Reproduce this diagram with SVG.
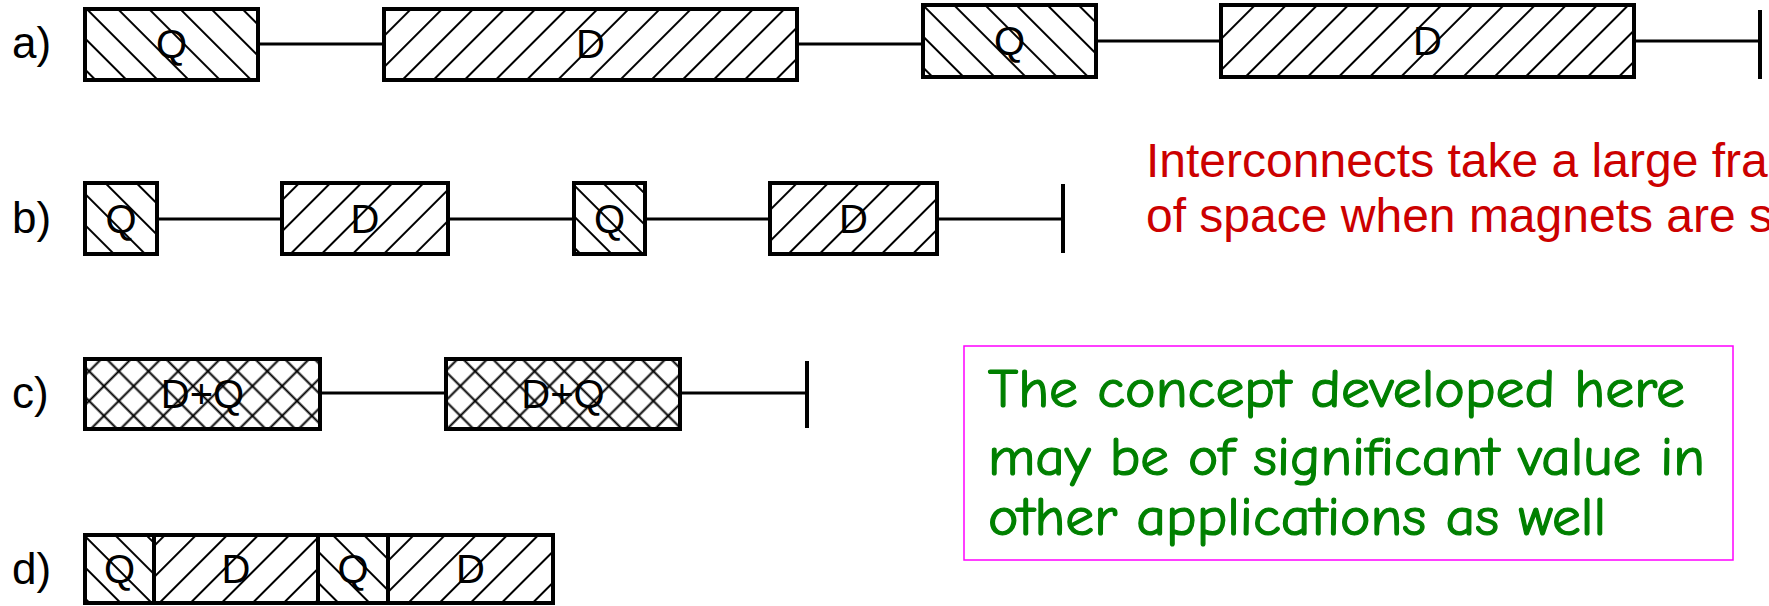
<svg xmlns="http://www.w3.org/2000/svg" width="1769" height="606" viewBox="0 0 1769 606">
<style>
.box{stroke:#000;stroke-width:4}
.conn{stroke:#000;stroke-width:3;fill:none}
.bar{stroke:#000;stroke-width:4}
.lbl{font-family:"Liberation Sans",Arial,sans-serif;font-size:44px;fill:#000}
.in{font-family:"Liberation Sans",Arial,sans-serif;font-size:40px;fill:#000;text-anchor:middle}
.red{font-family:"Liberation Sans",Arial,sans-serif;font-size:48px;fill:#CC0000}
.grn{font-family:"Comic Sans MS","Comic Neue","DejaVu Sans",sans-serif;font-size:54px;fill:#008000;stroke:#008000;stroke-width:1.2}
</style>
<defs>
<pattern id="hQ" patternUnits="userSpaceOnUse" width="22" height="22" patternTransform="rotate(-45)">
<rect width="22" height="22" fill="#fff"/><line x1="11" y1="0" x2="11" y2="22" stroke="#000" stroke-width="2"/>
</pattern>
<pattern id="hD" patternUnits="userSpaceOnUse" width="22" height="22" patternTransform="rotate(45)">
<rect width="22" height="22" fill="#fff"/><line x1="11" y1="0" x2="11" y2="22" stroke="#000" stroke-width="2"/>
</pattern>
<pattern id="hX" patternUnits="userSpaceOnUse" width="21" height="21" patternTransform="rotate(45)">
<rect width="21" height="21" fill="#fff"/><line x1="10.5" y1="0" x2="10.5" y2="21" stroke="#000" stroke-width="2"/><line x1="0" y1="10.5" x2="21" y2="10.5" stroke="#000" stroke-width="2"/>
</pattern>
</defs>
<rect width="1769" height="606" fill="#fff"/>

<g id="labels">
<text class="lbl" x="12" y="58">a)</text>
<text class="lbl" x="12" y="233">b)</text>
<text class="lbl" x="12" y="408">c)</text>
<text class="lbl" x="12" y="584">d)</text>
</g>

<g id="connectors">
<line class="conn" x1="258" y1="44" x2="384" y2="44"/>
<line class="conn" x1="797" y1="44" x2="923" y2="44"/>
<line class="conn" x1="1096" y1="41" x2="1221" y2="41" stroke-width="4"/>
<line class="conn" x1="1634" y1="41" x2="1760" y2="41" stroke-width="4"/>
<line class="bar" x1="1760" y1="10" x2="1760" y2="79"/>
<line class="conn" x1="157" y1="219" x2="282" y2="219"/>
<line class="conn" x1="448" y1="219" x2="574" y2="219"/>
<line class="conn" x1="645" y1="219" x2="770" y2="219"/>
<line class="conn" x1="937" y1="219" x2="1063" y2="219"/>
<line class="bar" x1="1063" y1="184" x2="1063" y2="253"/>
<line class="conn" x1="320" y1="393" x2="446" y2="393"/>
<line class="conn" x1="680" y1="393" x2="807" y2="393"/>
<line class="bar" x1="807" y1="361" x2="807" y2="428"/>
</g>

<g id="a-Q1"><rect class="box" x="85" y="9" width="173" height="71" fill="url(#hQ)"/><text class="in" x="171.5" y="58">Q</text></g>
<g id="a-D1"><rect class="box" x="384" y="9" width="413" height="71" fill="url(#hD)"/><text class="in" x="590.5" y="58">D</text></g>
<g id="a-Q2"><rect class="box" x="923" y="5" width="173" height="72" fill="url(#hQ)"/><text class="in" x="1009.5" y="55">Q</text></g>
<g id="a-D2"><rect class="box" x="1221" y="5" width="413" height="72" fill="url(#hD)"/><text class="in" x="1427.5" y="55">D</text></g>

<g id="b-Q1"><rect class="box" x="85" y="183" width="72" height="71" fill="url(#hQ)"/><text class="in" x="121" y="233">Q</text></g>
<g id="b-D1"><rect class="box" x="282" y="183" width="166" height="71" fill="url(#hD)"/><text class="in" x="365" y="233">D</text></g>
<g id="b-Q2"><rect class="box" x="574" y="183" width="71" height="71" fill="url(#hQ)"/><text class="in" x="609.5" y="233">Q</text></g>
<g id="b-D2"><rect class="box" x="770" y="183" width="167" height="71" fill="url(#hD)"/><text class="in" x="853.5" y="233">D</text></g>

<g id="c-DQ1"><rect class="box" x="85" y="359" width="235" height="70" fill="url(#hX)"/><text class="in" x="202.5" y="408" font-size="39">D+Q</text></g>
<g id="c-DQ2"><rect class="box" x="446" y="359" width="234" height="70" fill="url(#hX)"/><text class="in" x="563" y="408" font-size="39">D+Q</text></g>

<g id="d-Q1"><rect class="box" x="85" y="535" width="69" height="68" fill="url(#hQ)"/><text class="in" x="119.5" y="583">Q</text></g>
<g id="d-D1"><rect class="box" x="154" y="535" width="164" height="68" fill="url(#hD)"/><text class="in" x="236" y="583">D</text></g>
<g id="d-Q2"><rect class="box" x="318" y="535" width="70" height="68" fill="url(#hQ)"/><text class="in" x="353" y="583">Q</text></g>
<g id="d-D2"><rect class="box" x="388" y="535" width="165" height="68" fill="url(#hD)"/><text class="in" x="470.5" y="583">D</text></g>

<g id="note-red">
<text class="red" x="1146" y="177">Interconnects take a large frac</text>
<text class="red" x="1146" y="232">of space when magnets are s</text>
</g>

<g id="note-green">
<rect x="964" y="346" width="769" height="214" fill="#fff" stroke="#FF00FF" stroke-width="1.5"/>
<text class="grn" x="988" y="407" textLength="697" lengthAdjust="spacingAndGlyphs">The concept developed here</text>
<text class="grn" x="988" y="475" textLength="717" lengthAdjust="spacingAndGlyphs">may be of significant value in</text>
<text class="grn" x="988" y="535" textLength="618" lengthAdjust="spacingAndGlyphs">other applications as well</text>
</g>
</svg>
